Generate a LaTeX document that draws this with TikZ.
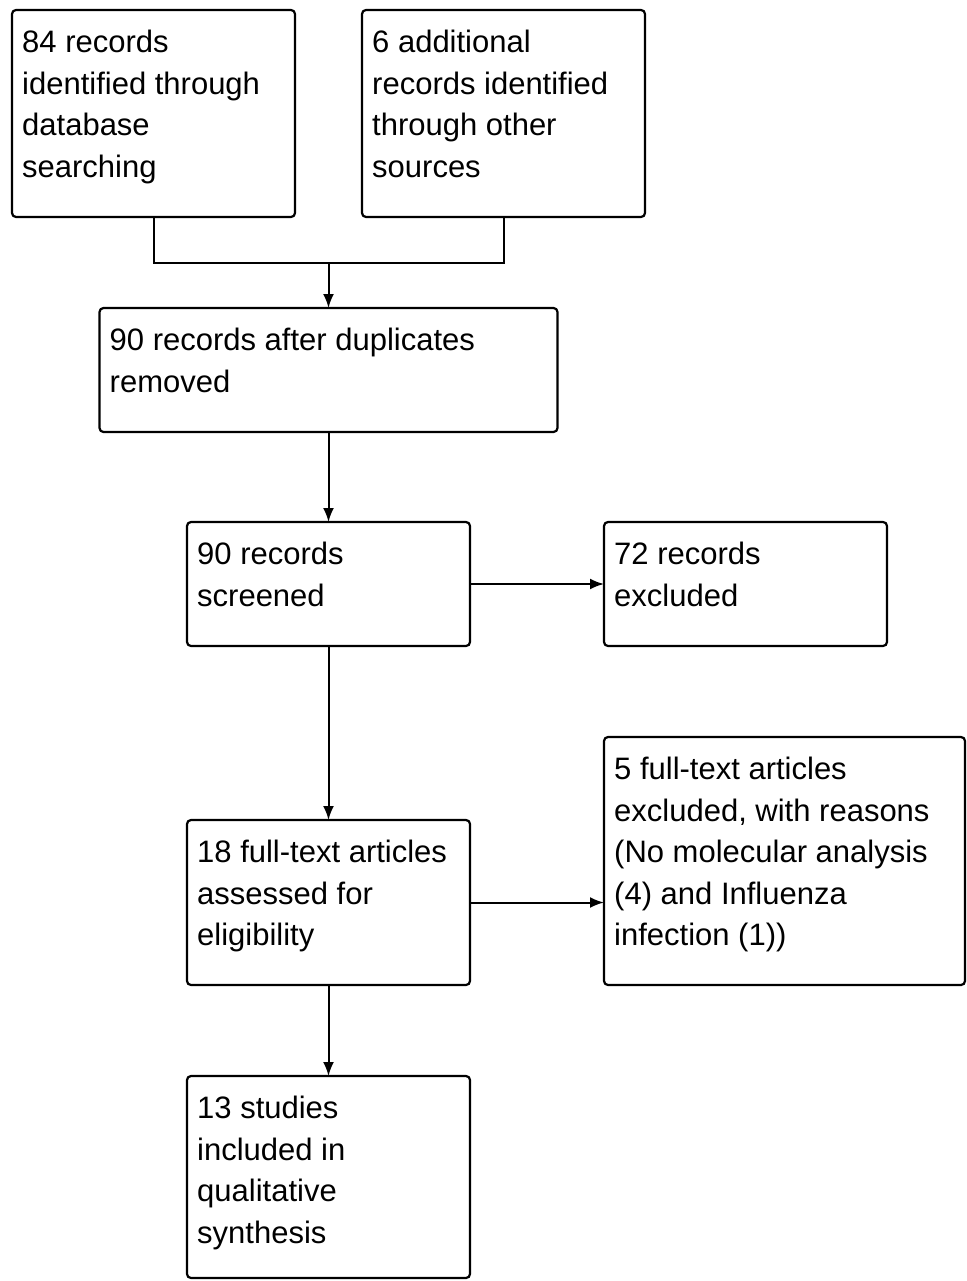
\documentclass[tikz,border=0pt]{standalone}
\usepackage{fontspec}
\setmainfont{Liberation Sans}
\usetikzlibrary{positioning, arrows.meta, calc}

\begin{document}
\begin{tikzpicture}[x=1pt, y=1pt,
    box/.style={rectangle, rounded corners=4pt, draw, line width=2.2pt, inner sep=0pt, outer sep=0pt},
    lbl/.style={anchor=north west, inner xsep=10pt, inner ysep=0pt, yshift=-20pt, align=left, font=\fontsize{31}{41.5}\selectfont},
    txt/.style={label={[lbl]north west:{#1}}},
    flow/.style={-{Latex[length=14pt,width=11pt]}, line width=2pt}]
    \useasboundingbox (0,0) rectangle (966,-1281);

    % Nodes
    \node[box, minimum width=283pt, minimum height=207pt, anchor=north west,
          txt={84 records\\identified through\\database\\searching}] (dbrec) at (12,-10) {};
    \node[box, minimum width=283pt, minimum height=207pt, right=67pt of dbrec,
          txt={6 additional\\records identified\\through other\\sources}] (othrec) {};
    \coordinate (join) at ($(dbrec.south)!0.5!(othrec.south) + (0,-46)$);
    \node[box, minimum width=458pt, minimum height=124pt, below=45pt of join,
          txt={90 records after duplicates\\removed}] (dedup) {};
    \node[box, minimum width=283pt, minimum height=124pt, below=90pt of dedup,
          txt={90 records\\screened}] (screen) {};
    \node[box, minimum width=283pt, minimum height=124pt, right=134pt of screen,
          txt={72 records\\excluded}] (excl1) {};
    \node[box, minimum width=283pt, minimum height=165pt, below=174pt of screen,
          txt={18 full-text articles\\assessed for\\eligibility}] (fullt) {};
    \node[box, minimum width=361pt, minimum height=248pt, right=134pt of fullt.south east, anchor=south west,
          txt={5 full-text articles\\excluded, with reasons\\(No molecular analysis\\(4) and Influenza\\infection (1))}] (excl2) {};
    \node[box, minimum width=283pt, minimum height=202pt, below=91pt of fullt,
          txt={13 studies\\included in\\qualitative\\synthesis}] (incl) {};

    % Arrows
    \draw[line width=2pt] (dbrec.south) |- (join) -| (othrec.south);
    \draw[flow] (join) -- (dedup);
    \draw[flow] (dedup) -- (screen);
    \draw[flow] (screen) -- (excl1);
    \draw[flow] (screen) -- (fullt);
    \draw[flow] (fullt.east) -- (fullt.east -| excl2.west);
    \draw[flow] (fullt) -- (incl);
\end{tikzpicture}
\end{document}
